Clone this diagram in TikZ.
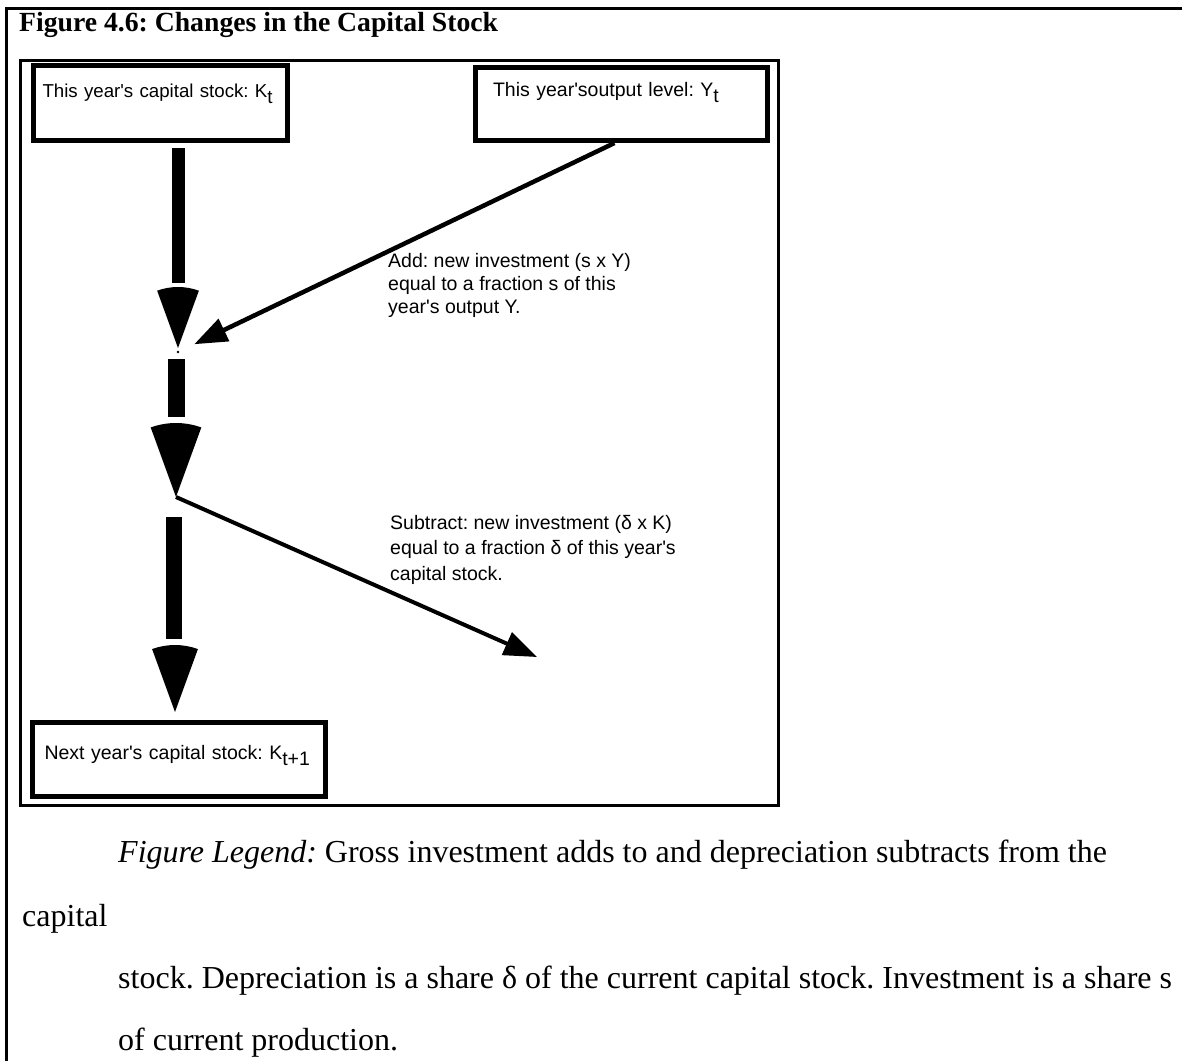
\documentclass[tikz,border=0pt]{standalone}
\usepackage{fontspec}
\setmainfont{Liberation Serif}
\newfontfamily\arialfont{Liberation Sans}[Ligatures=TeXOff]
\usetikzlibrary{arrows.meta}
\frenchspacing

\begin{document}
\begin{tikzpicture}[
  x=1pt, y=-1pt,
  frame/.style    ={draw=black, line width=3pt},
  stockbox/.style ={draw=black, line width=5pt, inner ysep=0pt, align=left,
                    font=\arialfont\fontsize{19.5}{23.5}\selectfont},
  note/.style     ={anchor=base west, inner sep=0pt, align=left,
                    font=\arialfont\fontsize{19.5}{23}\selectfont},
  shaft/.style    ={line width=#1},
  flow/.style     ={-{Triangle[length=33pt,width=24pt]}, line width=4.5pt},
  legend/.style   ={anchor=base west, inner sep=0pt, font=\fontsize{32}{38}\selectfont},
]
\useasboundingbox (0,0) rectangle (1182,1061);

% Page frame and title
\draw[frame] (1182,8.5) -- (6.5,8.5) -- (6.5,1061);
\node[anchor=base west, inner sep=0pt, font=\bfseries\fontsize{27.7}{32}\selectfont]
  (title) at (19,31.7) {Figure 4.6: Changes in the Capital Stock};

% Figure frame
\draw[frame] (20.5,60) rectangle (778.5,805.5);

% Stock and output boxes -- text sits at the top left of each box
\node[stockbox, font=\arialfont\fontsize{18.7}{23}\selectfont,
      text width=236pt, inner xsep=9pt, text height=31.5pt, text depth=43.5pt]
  (kt) at (160.5,103) {This year's capital stock: K\raisebox{-6pt}{t}};
\node[stockbox, text width=257pt, inner xsep=17.5pt, text height=28.5pt, text depth=44.5pt]
  (yt) at (621.5,104) {This year'soutput level: Y\raisebox{-6pt}{t}};
\node[stockbox, text width=269pt, inner xsep=12pt, text height=36.5pt, text depth=37.5pt]
  (kn) at (179,759.5) {Next year's capital stock: K\raisebox{-6pt}{t+1}};

% Thick arrows down the capital stock path
\coordinate (tipA) at (178,348);
\coordinate (join) at (178,352);
\coordinate (tipB) at (176,497);
\coordinate (tipC) at (175,712);
\draw[shaft=13pt] (178,148) -- (178,283);
\fill (tipA) -- ++(250:61) arc[start angle=250, end angle=290, radius=61] -- cycle;
\fill (join) circle[radius=1.3];
\draw[shaft=17pt] (176.5,359) -- (176.5,417);
\fill (tipB) -- ++(250:74) arc[start angle=250, end angle=290, radius=74] -- cycle;
\draw[shaft=16pt] (174,517) -- (174,639);
\fill (tipC) -- ++(250:67) arc[start angle=250, end angle=290, radius=67] -- cycle;

% Investment in, depreciation out
\coordinate (subend) at (537,657);
\draw[flow, shorten >=18pt] ([xshift=-7pt]yt.south) -- (join);
\draw[flow, line width=4pt] (tipB) -- (subend);

% notes: anchored on the baseline of their last line
\node[note] (addnote) at (388,313)
  {Add: new investment (s x Y)\\equal to a fraction s of this\\year's output Y.};
\node[note, font=\arialfont\fontsize{19.5}{25.5}\selectfont] (subnote) at (390,580)
  {Subtract: new investment (δ x K)\\equal to a fraction δ of this year's\\capital stock.};

% Legend below the figure
\node[legend] (leg1) at (118,862)
  {\textit{Figure Legend:} Gross investment adds to and depreciation subtracts from the};
\node[legend] (leg2) at (22,926) {capital};
\node[legend] (leg3) at (118,988)
  {stock. Depreciation is a share δ of the current capital stock. Investment is a share s};
\node[legend] (leg4) at (118,1050) {of current production.};
\end{tikzpicture}
\end{document}
